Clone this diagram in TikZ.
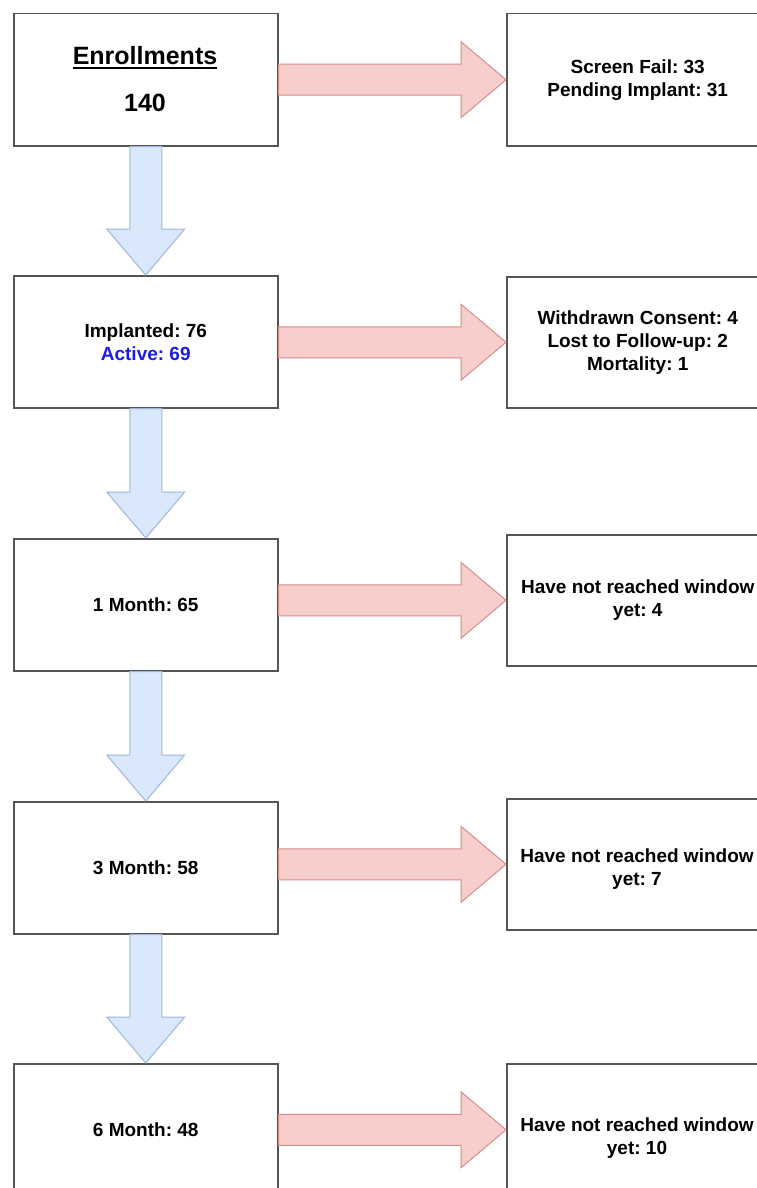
\documentclass[tikz,border=0pt]{standalone}
\usepackage{fontspec}
\setmainfont{Liberation Sans}
\usetikzlibrary{calc}
\definecolor{boxline}{HTML}{555555}
\definecolor{bfill}{HTML}{DAE8FC}
\definecolor{bline}{HTML}{9DB6DA}
\definecolor{rfill}{HTML}{F8CECC}
\definecolor{rline}{HTML}{D58E8B}
\definecolor{actblue}{HTML}{1C1CE6}
\newcommand\boxfont{\fontsize{19}{23}\selectfont\bfseries\frenchspacing}
\newcommand\bigboxfont{\fontsize{25}{30}\selectfont\bfseries\frenchspacing}
\begin{document}
\begin{tikzpicture}[x=1pt,y=-1pt,
  box/.style={draw=boxline,line width=1.5pt,fill=white,minimum width=264pt,
    minimum height=132pt,anchor=north west,inner sep=0pt,font=\boxfont,align=center},
  txt/.style={inner sep=0pt,font=\boxfont,align=center},
  redarrow/.style={draw=rline,fill=rfill,line width=1pt,line join=miter,
    to path={let \p1=(\tikztostart), \p2=(\tikztotarget) in
      (\x1,\y2+15.5pt) -- (\x2-45pt,\y2+15.5pt) -- (\x2-45pt,\y2+38pt) -- (\x2,\y2)
      -- (\x2-45pt,\y2-38pt) -- (\x2-45pt,\y2-15.5pt) -- (\x1,\y2-15.5pt) -- cycle}},
  bluearrow/.style={draw=bline,fill=bfill,line width=1pt,line join=miter,
    to path={let \p1=(\tikztostart), \p2=(\tikztotarget) in
      (\x1-16pt,\y1) -- (\x1-16pt,\y2+46pt) -- (\x1-39pt,\y2+46pt) -- (\x1,\y2)
      -- (\x1+39pt,\y2+46pt) -- (\x1+16pt,\y2+46pt) -- (\x1+16pt,\y1) -- cycle}}
]
\useasboundingbox (0,0) rectangle (757,1188);
\fill[white] (0,0) rectangle (757,1188);
\clip (0,0) rectangle (757,1188);

% left column
\node[box] (L1) at (13,13) {};
\node[box] (L2) at (13,275) {Implanted: 76\\\textcolor{actblue}{Active: 69}};
\node[box] (L3) at (13,538) {1 Month: 65};
\node[box] (L4) at (13,801) {3 Month: 58};
\node[box] (L5) at (13,1063) {6 Month: 48};

\node[txt,font=\bigboxfont] (enr) at (145,56) {Enrollments};
\draw[line width=2pt] ([yshift=-3.5pt]enr.base west) -- ([yshift=-3.5pt]enr.base east);
\node[txt,font=\bigboxfont] (n140) at (145,103) {140};

% right column
\node[box,minimum width=262pt] (R1) at (506,13) {Screen Fail: 33\\Pending Implant: 31};
\node[box,minimum width=262pt,minimum height=131pt] (R2) at (506,276) {Withdrawn Consent: 4\\Lost to Follow-up: 2\\Mortality: 1};
\node[box,minimum width=262pt,minimum height=131pt] (R3) at (506,534) {Have not reached window\\yet: 4};
\node[box,minimum width=262pt,minimum height=131pt] (R4) at (506,798) {};
\node[txt] (r4t) at (637,869) {Have not reached window\\yet: 7};
\node[box,minimum width=262pt] (R5) at (506,1063) {};
\node[txt] (r5t) at (637,1138) {Have not reached window\\yet: 10};

% arrows
\draw[redarrow] (L1.east) to (R1.west);
\draw[redarrow] (L2.east) to (R2.west);
\draw[redarrow] (L3.east) to (R3.west);
\draw[redarrow] (L4.east) to (R4.west);
\draw[redarrow] (L5.east) to (R5.west);

\draw[bluearrow] (L1.south) to (L2.north);
\draw[bluearrow] (L2.south) to (L3.north);
\draw[bluearrow] (L3.south) to (L4.north);
\draw[bluearrow] (L4.south) to (L5.north);
\end{tikzpicture}
\end{document}
